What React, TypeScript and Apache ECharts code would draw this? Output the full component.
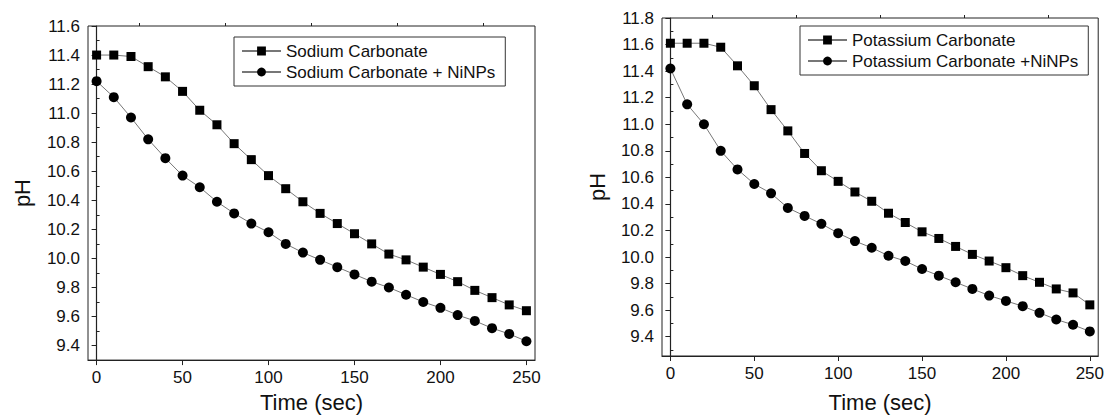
import React, { useEffect, useRef } from "react";
import * as echarts from "echarts";

const times = [0, 10, 20, 30, 40, 50, 60, 70, 80, 90, 100, 110, 120, 130, 140, 150, 160, 170, 180, 190, 200, 210, 220, 230, 240, 250];

const sodium = [11.40, 11.40, 11.39, 11.32, 11.25, 11.15, 11.02, 10.92, 10.79, 10.68, 10.57, 10.48, 10.39, 10.31, 10.24, 10.17, 10.10, 10.03, 9.99, 9.94, 9.89, 9.84, 9.78, 9.73, 9.68, 9.64];
const sodiumNi = [11.22, 11.11, 10.97, 10.82, 10.69, 10.57, 10.49, 10.39, 10.31, 10.24, 10.18, 10.10, 10.04, 9.99, 9.94, 9.89, 9.84, 9.80, 9.75, 9.70, 9.66, 9.61, 9.57, 9.52, 9.48, 9.43];
const potassium = [11.61, 11.61, 11.61, 11.58, 11.44, 11.29, 11.11, 10.95, 10.78, 10.65, 10.57, 10.49, 10.42, 10.33, 10.26, 10.19, 10.14, 10.08, 10.02, 9.97, 9.92, 9.86, 9.81, 9.76, 9.73, 9.64];
const potassiumNi = [11.42, 11.15, 11.00, 10.80, 10.66, 10.55, 10.48, 10.37, 10.31, 10.25, 10.18, 10.12, 10.07, 10.01, 9.97, 9.91, 9.86, 9.81, 9.76, 9.71, 9.67, 9.63, 9.58, 9.53, 9.49, 9.44];

const xMajor = [0, 50, 100, 150, 200, 250];
const xMinor = [25, 75, 125, 175, 225];
const yMajorLeft = [9.4, 9.6, 9.8, 10.0, 10.2, 10.4, 10.6, 10.8, 11.0, 11.2, 11.4, 11.6];
const yMinorLeft = [9.5, 9.7, 9.9, 10.1, 10.3, 10.5, 10.7, 10.9, 11.1, 11.3, 11.5];
const yMajorRight = [9.4, 9.6, 9.8, 10.0, 10.2, 10.4, 10.6, 10.8, 11.0, 11.2, 11.4, 11.6, 11.8];
const yMinorRight = [9.3, 9.5, 9.7, 9.9, 10.1, 10.3, 10.5, 10.7, 10.9, 11.1, 11.3, 11.5, 11.7];

const names = {
  s: "Sodium Carbonate",
  sn: "Sodium Carbonate + NiNPs",
  p: "Potassium Carbonate",
  pn: "Potassium Carbonate +NiNPs",
};

const FONT = "Liberation Sans, Arial, sans-serif";
const AX = "#222";

function pair(xs: number[], ys: number[]) {
  return xs.map((x, i) => [x, ys[i]]);
}

function mainX(grid: number, gap: number) {
  return {
    type: "value", gridIndex: grid, min: -5, max: 255,
    name: "Time (sec)", nameLocation: "middle", nameGap: gap,
    nameTextStyle: { fontSize: 22, color: "#111", fontFamily: FONT },
    axisLine: { show: true, lineStyle: { color: AX, width: 1.2 } },
    axisTick: { show: true, customValues: xMajor, length: 5, lineStyle: { color: AX } },
    axisLabel: { customValues: xMajor, fontSize: 17, color: "#111", fontFamily: FONT, margin: 9 },
    splitLine: { show: false },
  };
}
function minorX(grid: number) {
  return {
    type: "value", gridIndex: grid, min: -5, max: 255,
    axisLine: { show: false },
    axisTick: { show: true, customValues: xMinor, length: 3, lineStyle: { color: AX } },
    axisLabel: { show: false },
    splitLine: { show: false },
  };
}
function mainY(grid: number, min: number, max: number, major: number[], gap: number) {
  return {
    type: "value", gridIndex: grid, min, max,
    name: "pH", nameLocation: "middle", nameGap: gap,
    nameTextStyle: { fontSize: 22, color: "#111", fontFamily: FONT },
    axisLine: { show: true, lineStyle: { color: AX, width: 1.2 } },
    axisTick: { show: true, customValues: major, length: 5, lineStyle: { color: AX } },
    axisLabel: { customValues: major, fontSize: 17, color: "#111", fontFamily: FONT, margin: 8, formatter: (v: number) => v.toFixed(1) },
    splitLine: { show: false },
  };
}
function minorY(grid: number, min: number, max: number, minor: number[]) {
  return {
    type: "value", gridIndex: grid, min, max,
    axisLine: { show: false },
    axisTick: { show: true, customValues: minor, length: 3, lineStyle: { color: AX } },
    axisLabel: { show: false },
    splitLine: { show: false },
  };
}

function lineSeries(name: string, data: number[][], axis: number, symbol: string, size: number) {
  return {
    type: "line", name, data, xAxisIndex: axis, yAxisIndex: axis,
    symbol, symbolSize: size, showSymbol: true,
    lineStyle: { color: "#777", width: 1 },
    itemStyle: { color: "#000" },
    z: 3,
  };
}

export default function App() {
  const ref = useRef<HTMLDivElement>(null);
  useEffect(() => {
    if (!ref.current) return;
    const chart = echarts.init(ref.current, null, { renderer: "svg" });
    const legendCommon = {
      orient: "vertical",
      backgroundColor: "#fff",
      borderColor: "#333",
      borderWidth: 1,
      borderRadius: 0,
      itemWidth: 39,
      itemHeight: 11,
      itemGap: 1,
      padding: [4, 10, 4, 7],
      textStyle: { fontSize: 17, color: "#111", fontFamily: FONT, lineHeight: 20, padding: [0, 0, 0, 0] },
      selectedMode: false,
    };
    chart.setOption({
      animation: false,
      backgroundColor: "#fff",
      grid: [
        { left: 88, top: 26, width: 447, height: 343, show: true, borderColor: AX, borderWidth: 1, backgroundColor: "transparent" },
        { left: 662, top: 18, width: 440, height: 346, show: true, borderColor: AX, borderWidth: 1, backgroundColor: "transparent" },
      ],
      xAxis: [mainX(0, 30), minorX(0), mainX(1, 35), minorX(1)],
      yAxis: [
        mainY(0, 9.3, 11.6, yMajorLeft, 55),
        minorY(0, 9.3, 11.6, yMinorLeft),
        mainY(1, 9.255, 11.8, yMajorRight, 54),
        minorY(1, 9.255, 11.8, yMinorRight),
      ],
      legend: [
        { ...legendCommon, data: [names.s, names.sn], left: 234, top: 37 },
        { ...legendCommon, data: [names.p, names.pn], left: 800, top: 26 },
      ],
      series: [
        lineSeries(names.s, pair(times, sodium), 0, "rect", 9),
        lineSeries(names.sn, pair(times, sodiumNi), 0, "circle", 10),
        lineSeries(names.p, pair(times, potassium), 2, "rect", 9),
        lineSeries(names.pn, pair(times, potassiumNi), 2, "circle", 10),
      ],
    });
    return () => chart.dispose();
  }, []);
  return (
    <div
      ref={ref}
      style={{ position: "fixed", left: 0, top: 0, width: 1107, height: 418 }}
    />
  );
}
